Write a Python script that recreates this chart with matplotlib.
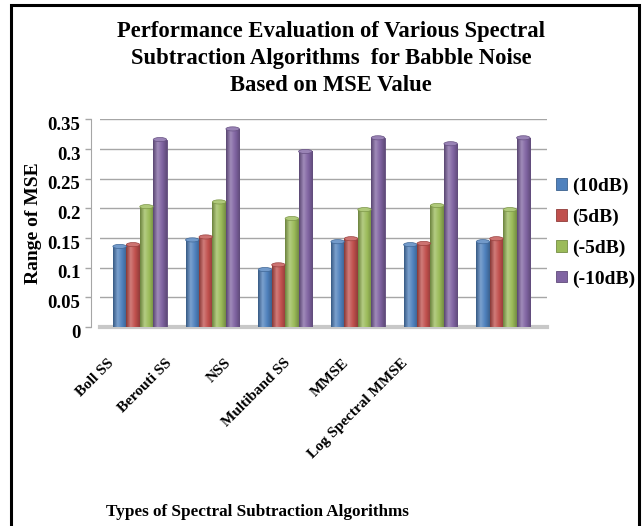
import numpy as np
import matplotlib
matplotlib.use("Agg")
import matplotlib.pyplot as plt
from matplotlib.colors import LinearSegmentedColormap, to_rgb
from matplotlib.patches import Rectangle, Ellipse
from matplotlib.transforms import ScaledTranslation

# data
algorithms = ['Boll SS', 'Berouti SS', 'NSS', 'Multiband SS', 'MMSE', 'Log Spectral MMSE']
snr_levels = ['(10dB)', '(5dB)', '(-5dB)', '(-10dB)']
mse_10db = [0.136, 0.147, 0.097, 0.144, 0.139, 0.144]
mse_5db = [0.139, 0.152, 0.105, 0.149, 0.141, 0.149]
mse_m5db = [0.203, 0.211, 0.183, 0.198, 0.205, 0.198]
mse_m10db = [0.316, 0.334, 0.296, 0.319, 0.309, 0.319]
y_ticks = [0, 0.05, 0.1, 0.15, 0.2, 0.25, 0.3, 0.35]
y_tick_labels = ['0', '0.05', '0.1', '0.15', '0.2', '0.25', '0.3', '0.35']

series = [mse_10db, mse_5db, mse_m5db, mse_m10db]
colors = ['#4F81BD', '#C0504D', '#9BBB59', '#8064A2']

plt.rcParams['font.family'] = ['Liberation Serif', 'DejaVu Serif']
plt.rcParams['font.weight'] = 'bold'

fig = plt.figure(figsize=(6.44, 5.26), dpi=100)
ax = fig.add_axes([0.155, 0.378, 0.694, 0.395])

# axis styling first (moving a spine resets the ticks)
for s in ['top', 'right']:
    ax.spines[s].set_visible(False)
ax.spines['left'].set_position(('outward', 6))
ax.spines['left'].set_color('#A6A6A6')
ax.spines['bottom'].set_color('#C8C8C8')
ax.spines['bottom'].set_linewidth(3)

x = np.arange(len(algorithms))
width = 0.185

def shade(c, f):
    r = np.array(to_rgb(c))
    if f < 1:
        return tuple(r * f)
    return tuple(r + (1 - r) * (f - 1))

for i, (vals, c) in enumerate(zip(series, colors)):
    pos = x + (i - 1.5) * width
    bars = ax.bar(pos, vals, width, color=c, edgecolor=shade(c, 0.75),
                  linewidth=0.6, label=snr_levels[i], zorder=3)
    cmap = LinearSegmentedColormap.from_list(
        'cyl', [shade(c, 0.7), shade(c, 1.25), c, shade(c, 0.75)])
    grad = np.linspace(0, 1, 64).reshape(1, -1)
    for b in bars:
        bx, bw, bh = b.get_x(), b.get_width(), b.get_height()
        im = ax.imshow(grad, cmap=cmap, aspect='auto', zorder=3.5,
                       extent=(bx, bx + bw, 0, bh))
        im.set_clip_path(b)
        ax.add_patch(Ellipse((bx + bw / 2, bh), bw, 0.007,
                             facecolor=shade(c, 1.2), edgecolor=shade(c, 0.8),
                             linewidth=0.5, zorder=4))

ax.set_xlim(-0.55, 5.6)
ax.set_ylim(0, 0.35)
ax.yaxis.grid(True, color='#A6A6A6', linewidth=1.0, zorder=0)
ax.set_axisbelow(True)
ax.tick_params(axis='y', colors='#A6A6A6', labelcolor='black', length=4, width=1, pad=4)
ax.tick_params(axis='x', length=0, pad=21)

ax.set_yticks(y_ticks)
ax.set_yticklabels(y_tick_labels, fontsize=13.5, fontweight='bold')
for lab in ax.get_yticklabels():
    lab.set_transform(lab.get_transform() +
                      ScaledTranslation(0, -0.04, fig.dpi_scale_trans))

ax.set_xticks(x)
ax.set_xticklabels(algorithms, rotation=45, ha='right', va='top',
                   rotation_mode='anchor', fontsize=11, fontweight='bold')
for i, lab in enumerate(ax.get_xticklabels()):
    lab.set_transform(lab.get_transform() +
                      ScaledTranslation((-33 - 13.8 * i) / 100, 0, fig.dpi_scale_trans))

ax.set_ylabel('Range of MSE', fontsize=14, fontweight='bold', labelpad=4)
fig.text(0.399, 0.027, 'Types of Spectral Subtraction Algorithms',
         ha='center', va='center', fontsize=12.3, fontweight='bold')

fig.text(0.514, 0.889,
         'Performance Evaluation of Various Spectral\n'
         'Subtraction Algorithms  for Babble Noise\n'
         'Based on MSE Value',
         ha='center', va='center', fontsize=16.3, fontweight='bold', linespacing=1.36)

handles, labels = ax.get_legend_handles_labels()
leg = fig.legend(handles, labels, loc='center left', bbox_to_anchor=(0.848, 0.558),
                 frameon=False, fontsize=14, handlelength=0.55, handleheight=0.55,
                 handletextpad=0.3, labelspacing=0.7, borderpad=0)

fig.patches.append(Rectangle((0.017, -0.05), 0.975, 1.04, transform=fig.transFigure,
                             fill=False, edgecolor='black', linewidth=2.2))

fig.savefig('out.png', dpi=100)
